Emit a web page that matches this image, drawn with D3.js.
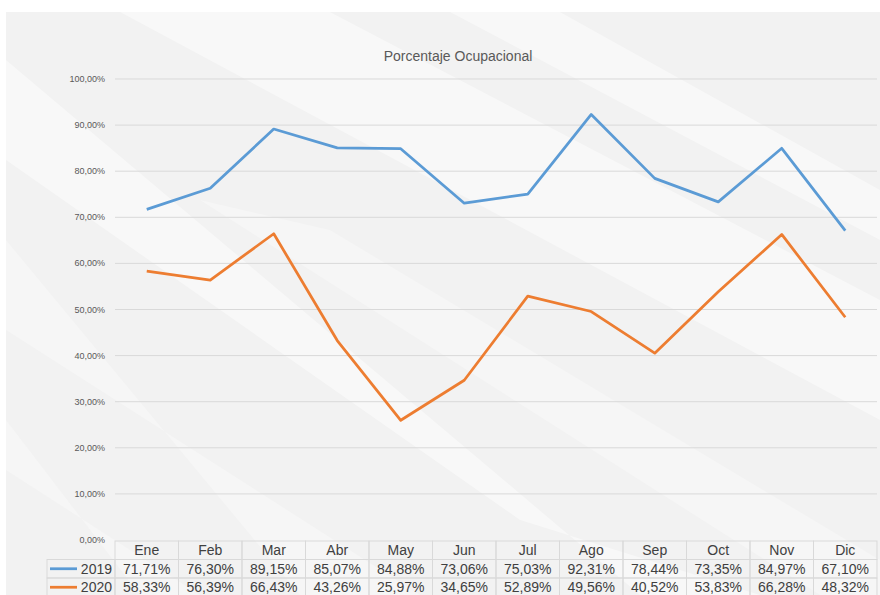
<!DOCTYPE html>
<html>
<head>
<meta charset="utf-8">
<script src="https://cdn.jsdelivr.net/npm/d3@7"></script>
<style>
  body { margin: 0; background: #fff; }
  text { font-family: "Liberation Sans", Arial, sans-serif; }
</style>
</head>
<body>
<script>
var months = ["Ene", "Feb", "Mar", "Abr", "May", "Jun", "Jul", "Ago", "Sep", "Oct", "Nov", "Dic"];
var values2019 = [71.71, 76.30, 89.15, 85.07, 84.88, 73.06, 75.03, 92.31, 78.44, 73.35, 84.97, 67.10];
var values2020 = [58.33, 56.39, 66.43, 43.26, 25.97, 34.65, 52.89, 49.56, 40.52, 53.83, 66.28, 48.32];
var seriesNames = ["2019", "2020"];
var seriesColors = ["#5b9bd5", "#ed7d31"];
var yTicks = [0, 10, 20, 30, 40, 50, 60, 70, 80, 90, 100];

var W = 880, H = 595;
var plotLeft = 115, plotRight = 877, plotTop = 79, plotBottom = 540;

var svg = d3.select("body").append("svg").attr("width", W).attr("height", H);

// panel background with soft diagonal streaks
svg.append("rect").attr("x", 6).attr("y", 12).attr("width", W - 6).attr("height", H - 12).attr("fill", "#f2f2f2");

var clip = svg.append("clipPath").attr("id", "panel");
clip.append("rect").attr("x", 6).attr("y", 12).attr("width", W - 6).attr("height", H - 12);

var streaks = [
  [[6, 60], [6, 160], [520, 520], [760, 595], [640, 595]],
  [[6, 240], [6, 330], [420, 595], [300, 595]],
  [[120, 12], [330, 12], [880, 300], [880, 420]],
  [[6, 420], [6, 470], [200, 595], [140, 595]],
  [[450, 12], [560, 12], [880, 190], [880, 240]],
  [[200, 200], [330, 230], [880, 560], [880, 595], [820, 595]]
];
svg.append("g").attr("clip-path", "url(#panel)").selectAll("polygon")
  .data(streaks)
  .enter().append("polygon")
          .attr("points", function(d){ return d.map(function(p){ return p.join(","); }).join(" "); })
          .attr("fill", "#ffffff")
          .attr("opacity", function(d,i){ return i % 2 ? 0.3 : 0.45; });

var x = d3.scaleBand().domain(months).range([plotLeft, plotRight]);
var y = d3.scaleLinear().domain([0, 100]).range([plotBottom, plotTop]);

var fmt = function(v){ return v.toFixed(2).replace(".", ",") + "%"; };

// gridlines
svg.selectAll("line.grid")
  .data(yTicks.filter(function(d){ return d > 0; }))
  .enter().append("line")
          .attr("class", "grid")
          .attr("x1", plotLeft).attr("x2", plotRight)
          .attr("y1", function(d){ return y(d); })
          .attr("y2", function(d){ return y(d); })
          .attr("stroke", "#d9d9d9")
          .attr("stroke-width", 1);

// y labels
svg.selectAll("text.ylab")
  .data(yTicks)
  .enter().append("text")
          .attr("class", "ylab")
          .attr("x", 105)
          .attr("y", function(d){ return y(d) + 3; })
          .attr("text-anchor", "end")
          .attr("font-size", 9)
          .attr("fill", "#595959")
          .text(function(d){ return fmt(d); });

// title
svg.append("text")
   .attr("x", 458).attr("y", 61)
   .attr("text-anchor", "middle")
   .attr("font-size", 14)
   .attr("font-family", "'Open Sans', 'Noto Sans', sans-serif")
   .attr("fill", "#595959")
   .text("Porcentaje Ocupacional");

// lines
var lineGen = d3.line()
  .x(function(d, i){ return x(months[i]) + x.bandwidth() / 2; })
  .y(function(d){ return y(d); });

svg.selectAll("path.series")
  .data([values2019, values2020])
  .enter().append("path")
          .attr("class", "series")
          .attr("d", lineGen)
          .attr("fill", "none")
          .attr("stroke", function(d,i){ return seriesColors[i]; })
          .attr("stroke-width", 2.75)
          .attr("stroke-linejoin", "round");

// data table
var rowH = 18.5, tTop = 541, legLeft = 47;
var tg = svg.append("g");

// header row
tg.selectAll("rect.head")
  .data(months)
  .enter().append("rect")
          .attr("class", "head")
          .attr("x", function(d){ return x(d); })
          .attr("y", tTop)
          .attr("width", x.bandwidth())
          .attr("height", rowH)
          .attr("fill", "none")
          .attr("stroke", "#d9d9d9");
tg.selectAll("text.head")
  .data(months)
  .enter().append("text")
          .attr("class", "head")
          .attr("x", function(d){ return x(d) + x.bandwidth() / 2; })
          .attr("y", tTop + 14)
          .attr("text-anchor", "middle")
          .attr("font-size", 14)
          .attr("fill", "#404040")
          .text(function(d){ return d; });

[values2019, values2020].forEach(function(vals, r){
  var ry = tTop + rowH * (r + 1);
  tg.append("rect")
    .attr("x", legLeft).attr("y", ry)
    .attr("width", plotLeft - legLeft).attr("height", rowH)
    .attr("fill", "none").attr("stroke", "#d9d9d9");
  tg.append("line")
    .attr("x1", legLeft + 3).attr("x2", legLeft + 30)
    .attr("y1", ry + rowH / 2).attr("y2", ry + rowH / 2)
    .attr("stroke", seriesColors[r]).attr("stroke-width", 2.75);
  tg.append("text")
    .attr("x", plotLeft - 3).attr("y", ry + 14)
    .attr("text-anchor", "end")
    .attr("font-size", 14).attr("fill", "#404040")
    .text(seriesNames[r]);
  tg.selectAll("rect.r" + r)
    .data(vals)
    .enter().append("rect")
            .attr("class", "r" + r)
            .attr("x", function(d,i){ return x(months[i]); })
            .attr("y", ry)
            .attr("width", x.bandwidth())
            .attr("height", rowH)
            .attr("fill", "none")
            .attr("stroke", "#d9d9d9");
  tg.selectAll("text.r" + r)
    .data(vals)
    .enter().append("text")
            .attr("class", "r" + r)
            .attr("x", function(d,i){ return x(months[i]) + x.bandwidth() / 2; })
            .attr("y", ry + 14)
            .attr("text-anchor", "middle")
            .attr("font-size", 14)
            .attr("fill", "#404040")
            .text(function(d){ return fmt(d); });
});
</script>
</body>
</html>
